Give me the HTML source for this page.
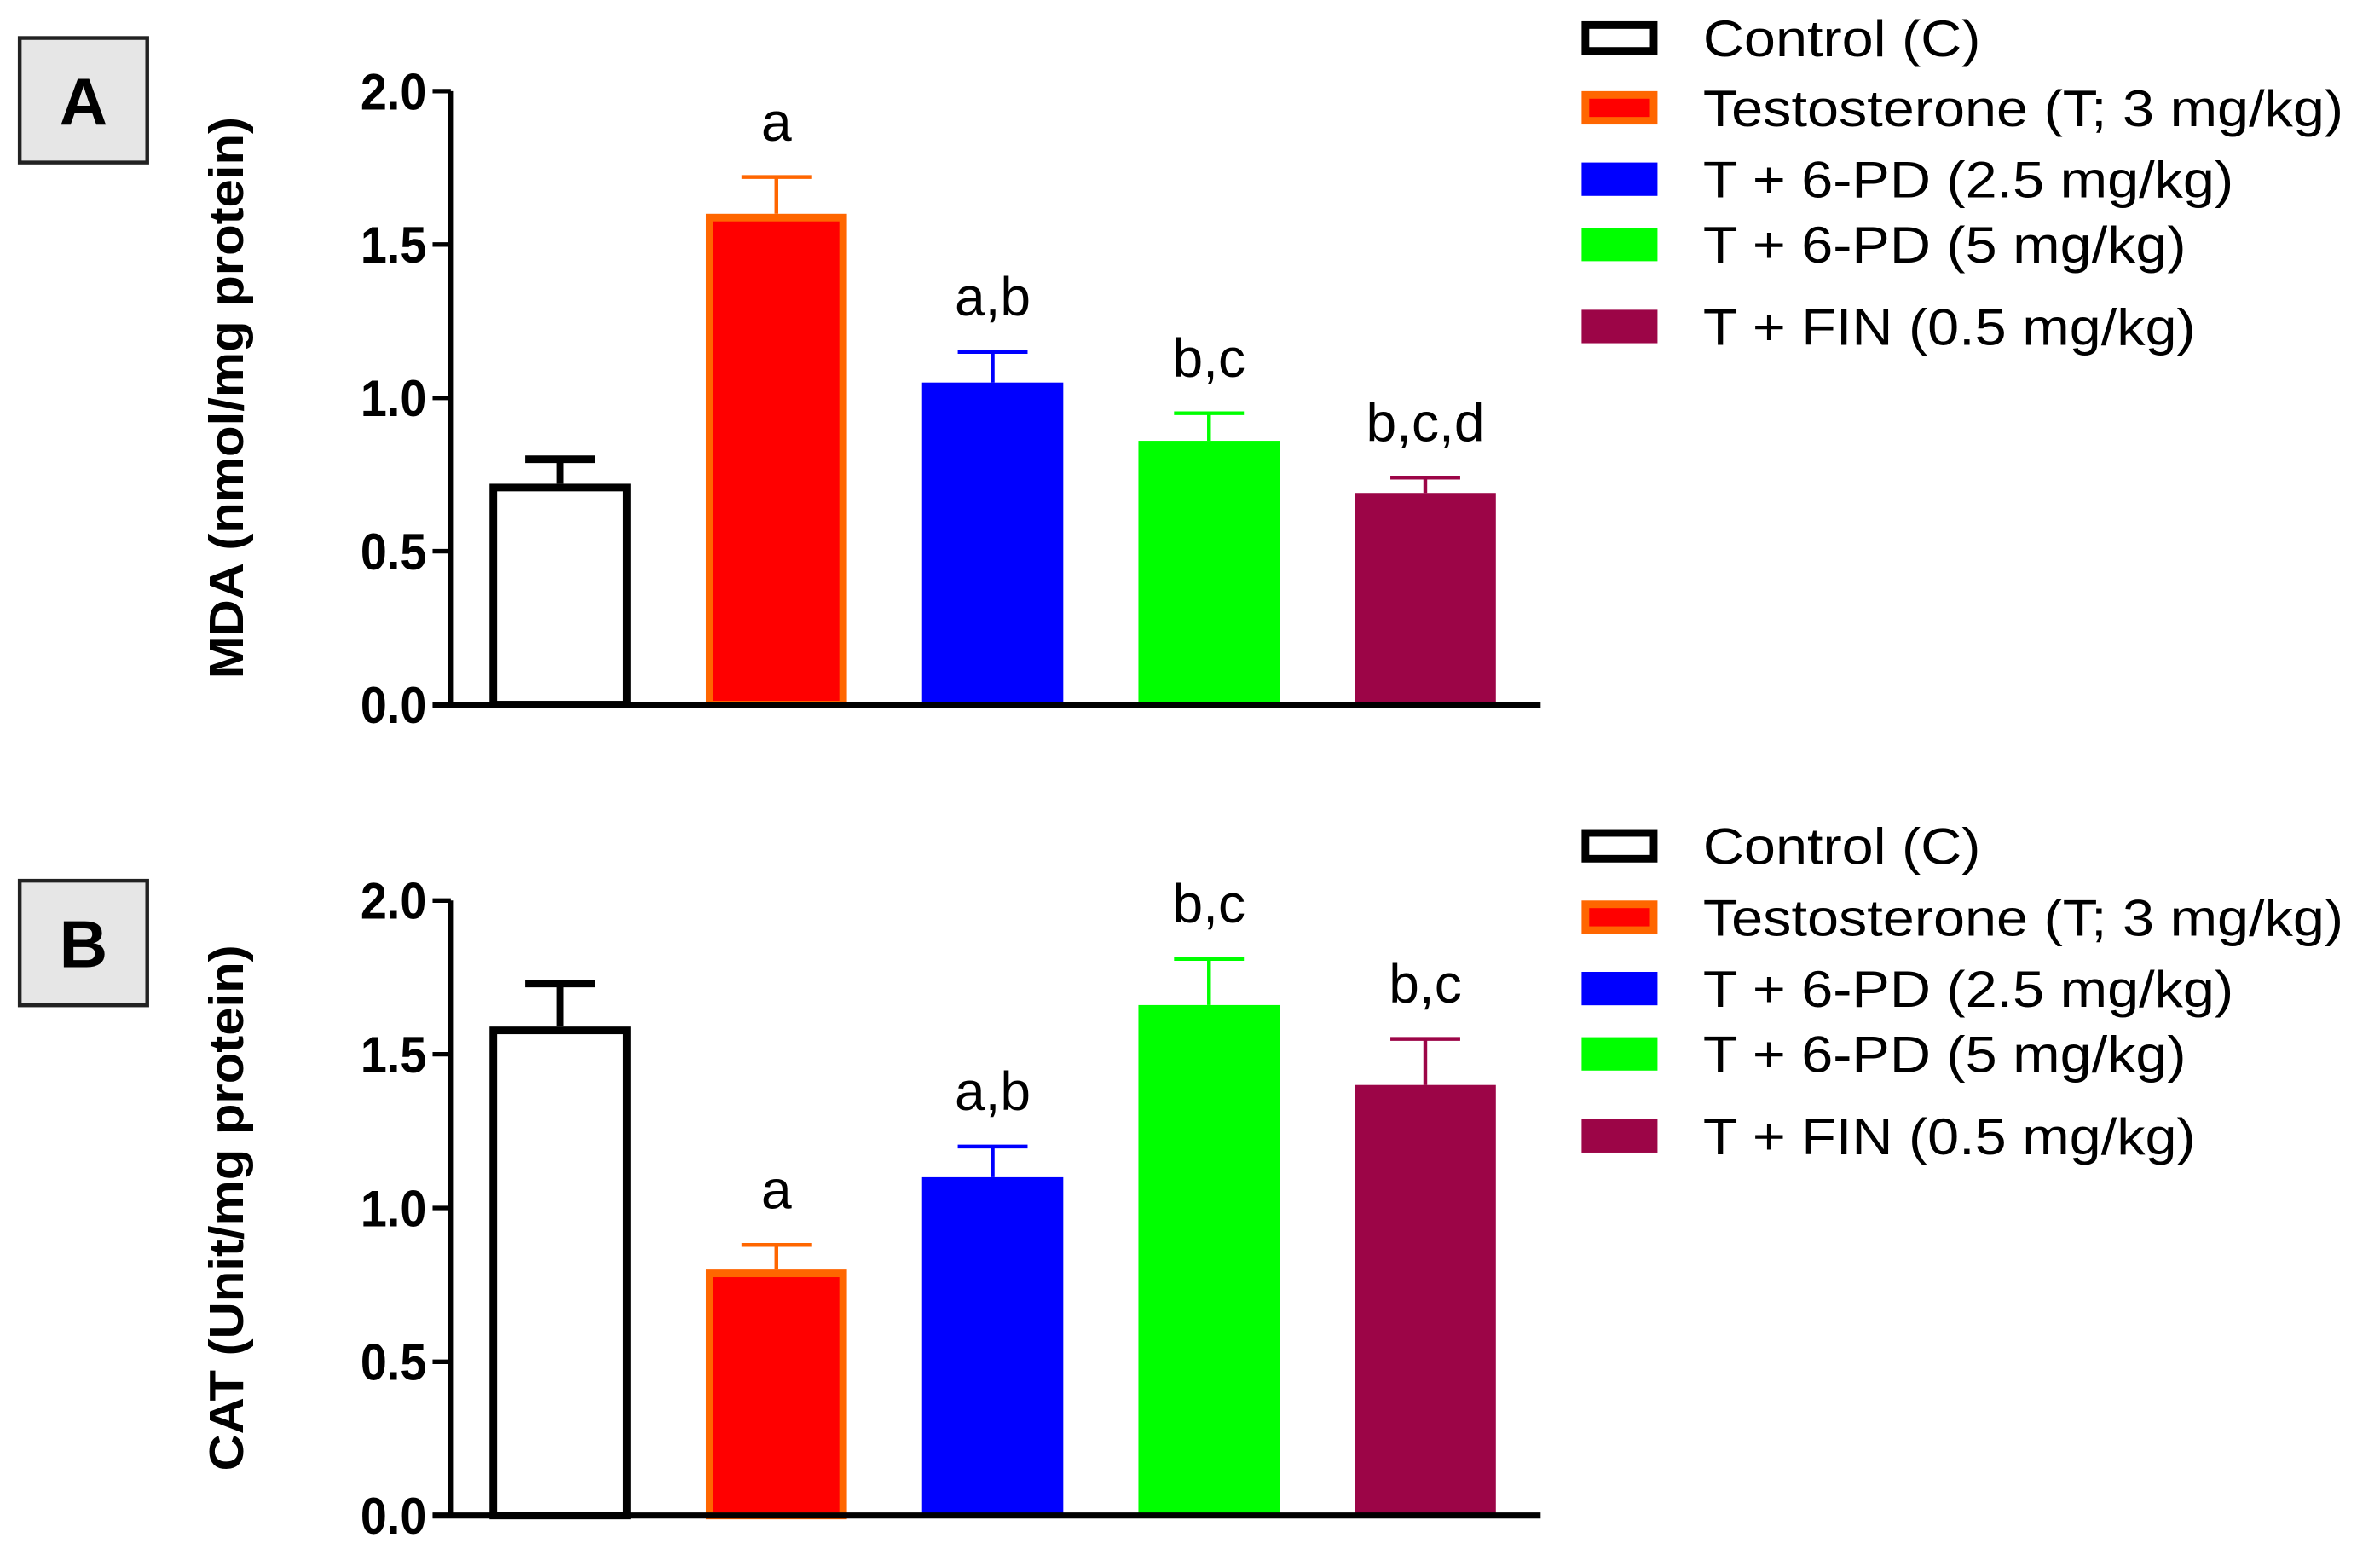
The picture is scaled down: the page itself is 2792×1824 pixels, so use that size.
<!DOCTYPE html>
<html><head><meta charset="utf-8"><style>
html,body{margin:0;padding:0;background:#fff;}
svg{display:block;font-family:"Liberation Sans",Arial,sans-serif;}
</style></head><body>
<svg id="fig" width="2792" height="1824" viewBox="0 0 1568 1024" preserveAspectRatio="none" xmlns="http://www.w3.org/2000/svg"></svg>
<script>
const categories = ["Control (C)", "Testosterone (T; 3 mg/kg)", "T + 6-PD (2.5 mg/kg)", "T + 6-PD (5 mg/kg)", "T + FIN (0.5 mg/kg)"];
const mdaValues = [0.72, 1.60, 1.05, 0.86, 0.69];
const mdaErrTop = [0.80, 1.72, 1.15, 0.95, 0.74];
const mdaLetters = ["", "a", "a,b", "b,c", "b,c,d"];
const catValues = [1.59, 0.80, 1.10, 1.66, 1.40];
const catErrTop = [1.73, 0.88, 1.20, 1.81, 1.55];
const catLetters = ["", "a", "a,b", "b,c", "b,c"];
const yTicks = [0, 0.5, 1.0, 1.5, 2.0];
const yTickLabels = ["0.0", "0.5", "1.0", "1.5", "2.0"];

const fills = ["#ffffff", "#ff0000", "#0000ff", "#00ff00", "#9c0547"];
const strokes = ["#000000", "#ff6600", "#0000ff", "#00ff00", "#9c0547"];
const NS = "http://www.w3.org/2000/svg";
const svg = document.getElementById("fig");
function mk(tag, attrs, parent) {
  const e = document.createElementNS(NS, tag);
  for (const k in attrs) e.setAttribute(k, attrs[k]);
  (parent || svg).appendChild(e);
  return e;
}

function panel(p) {
  const g = mk("g", {});
  
  
  const y = v => p.y0 - (v / 2) * (p.y0 - p.y2);
  const x = i => 369 + i * 142.5;
  const box = mk("rect", {x: 13, y: p.boxY, width: 84, height: 82, fill: "#e6e6e6", stroke: "#222", "stroke-width": 2.5}, g);
  
  
  const bt = mk("text", {x: 55, y: p.boxY + 57, "font-size": 44, "font-weight": "bold", "text-anchor": "middle"}, g);
  bt.textContent = p.label;
  
  
  const yt = mk("text", {x: 0, y: 0, "font-size": 32, "font-weight": "bold", "text-anchor": "middle", transform: `translate(160 ${(p.y0 + p.y2) / 2}) rotate(-90) scale(1.05 1)`}, g);
  yt.textContent = p.title;
  
  
  p.values.forEach((v, i) => {
    const sw = i < 2 ? 5 : 0;
    const bw = 93;
    const r = mk("rect", {x: x(i) - bw / 2 + sw / 2, y: y(v) + sw / 2, width: bw - sw, height: p.y0 - y(v) - sw / 2, fill: fills[i], stroke: sw ? strokes[i] : "none", "stroke-width": sw}, g);
    
    
    const ew = i === 0 ? 5 : 2.5;
    const el = mk("path", {d: `M${x(i)} ${y(v)} V${y(p.err[i])} M${x(i) - 23} ${y(p.err[i])} H${x(i) + 23}`, stroke: strokes[i], "stroke-width": ew, fill: "none"}, g);
    
    
    if (p.letters[i]) {
      const t = mk("text", {x: 0, y: 0, "font-size": 36, "text-anchor": "middle", transform: `translate(${x(i)} ${y(p.err[i]) - 24}) scale(1.0 1)`}, g);
      t.textContent = p.letters[i];
      
      
    }
  });
  const ax = mk("path", {d: `M297 ${p.y2} V${p.y0} M285 ${p.y0} H1015`, stroke: "#000", "stroke-width": 4, fill: "none"}, g);
  
  
  yTicks.forEach((t, i) => {
    const tk = mk("line", {x1: 285, x2: 297, y1: y(t), y2: y(t), stroke: "#000", "stroke-width": 3}, g);
    
    
    const tl = mk("text", {x: 0, y: 0, "font-size": 34, "font-weight": "bold", "text-anchor": "end", transform: `translate(281 ${y(t) + 12}) scale(0.92 1)`}, g);
    tl.textContent = yTickLabels[i];
    
    
  });
  p.legY.forEach((ly, i) => {
    const sw = i < 2 ? 5 : 0;
    const s = mk("rect", {x: 1042 + sw / 2, y: ly - 11 + sw / 2, width: 50 - sw, height: 22 - sw, fill: fills[i], stroke: sw ? strokes[i] : "none", "stroke-width": sw}, g);
    
    
    const lt = mk("text", {x: 0, y: 0, "font-size": 34, transform: `translate(1122 ${ly + 12}) scale(1.1 1)`}, g);
    lt.textContent = categories[i];
    
    
  });
}

panel({name: "panel-a-mda", label: "A", boxY: 25, y0: 464, y2: 60, title: "MDA (nmol/mg protein)", values: mdaValues, err: mdaErrTop, letters: mdaLetters, legY: [25, 71, 118, 161, 215]});
panel({name: "panel-b-cat", label: "B", boxY: 580, y0: 998, y2: 593, title: "CAT (Unit/mg protein)", values: catValues, err: catErrTop, letters: catLetters, legY: [557, 604, 651, 694, 748]});
</script>
</body></html>
